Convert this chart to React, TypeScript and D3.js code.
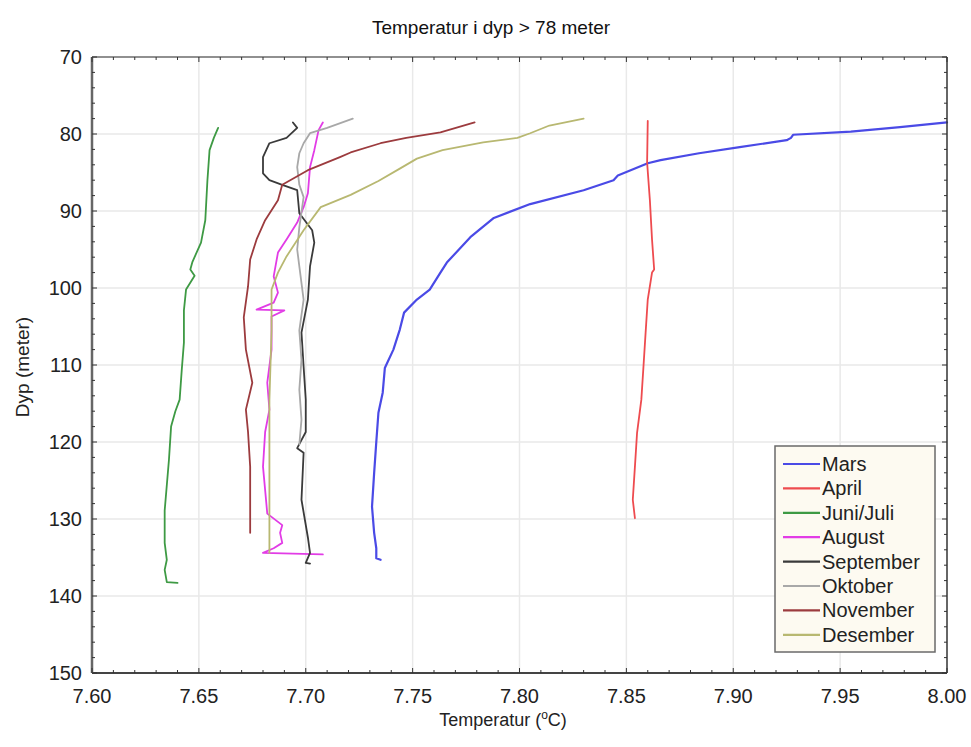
import React from "react";
import * as d3 from "d3";

type P = [number, number];

const seriesNames = ["Mars", "April", "Juni/Juli", "August", "September", "Oktober", "November", "Desember"];
const seriesColors = ["#4a4ae6", "#ee4b4f", "#3e9a44", "#e23ce6", "#3a3a3a", "#a8a8a8", "#9c3b3e", "#b8b871"];

// [temperature °C, depth m]
const mars: P[] = [
  [8.0, 78.5], [7.978, 79.1], [7.955, 79.7], [7.928, 80.1], [7.927, 80.5], [7.925, 80.8],
  [7.903, 81.7], [7.884, 82.5], [7.866, 83.4], [7.86, 83.8], [7.846, 85.4], [7.844, 86.0],
  [7.83, 87.3], [7.805, 89.1], [7.788, 90.9], [7.777, 93.4], [7.766, 96.7], [7.763, 98.0],
  [7.758, 100.2], [7.752, 101.5], [7.746, 103.2], [7.744, 105.4], [7.741, 108.0], [7.737, 110.4],
  [7.736, 113.6], [7.734, 116.2], [7.733, 120.0], [7.732, 124.0], [7.731, 128.4], [7.732, 131.8],
  [7.733, 133.8], [7.733, 135.1], [7.735, 135.3],
];
const april: P[] = [
  [7.86, 78.3], [7.8597, 83.7], [7.861, 88.6], [7.862, 93.7], [7.863, 97.6], [7.862, 98.0],
  [7.86, 101.5], [7.859, 105.8], [7.858, 110.2], [7.857, 114.5], [7.855, 118.8], [7.854, 123.2],
  [7.853, 127.5], [7.854, 129.9],
];
const juniJuli: P[] = [
  [7.659, 79.2], [7.657, 80.5], [7.655, 82.1], [7.654, 86.0], [7.653, 91.2], [7.651, 94.1],
  [7.647, 96.6], [7.646, 97.6], [7.648, 98.4], [7.644, 100.2], [7.643, 102.9], [7.643, 107.1],
  [7.642, 110.6], [7.641, 114.5], [7.639, 116.0], [7.637, 118.0], [7.636, 122.3], [7.634, 128.9],
  [7.634, 133.1], [7.635, 135.3], [7.634, 136.6], [7.635, 138.2], [7.64, 138.3],
];
const august: P[] = [
  [7.708, 78.5], [7.706, 79.5], [7.704, 82.1], [7.702, 84.3], [7.701, 87.7], [7.699, 89.5],
  [7.696, 91.5], [7.691, 93.7], [7.687, 95.4], [7.685, 98.5], [7.687, 100.6], [7.685, 101.9],
  [7.677, 102.8], [7.69, 102.9], [7.684, 103.7], [7.684, 108.0], [7.682, 112.3], [7.683, 115.8],
  [7.681, 118.7], [7.68, 123.2], [7.682, 129.3], [7.689, 130.8], [7.688, 131.8], [7.689, 133.1],
  [7.685, 133.8], [7.68, 134.4], [7.708, 134.6],
];
const september: P[] = [
  [7.694, 78.5], [7.696, 79.2], [7.691, 80.5], [7.683, 81.2], [7.68, 83.0], [7.68, 85.1],
  [7.683, 86.0], [7.689, 86.6], [7.696, 87.3], [7.697, 90.3], [7.703, 92.5], [7.704, 94.1],
  [7.702, 97.2], [7.701, 101.5], [7.698, 105.8], [7.699, 110.2], [7.7, 114.5], [7.7, 118.7],
  [7.696, 120.8], [7.699, 121.4], [7.698, 127.5], [7.701, 132.4], [7.702, 134.4], [7.7, 135.7],
  [7.702, 135.8],
];
const oktober: P[] = [
  [7.722, 78.0], [7.71, 79.2], [7.702, 79.9], [7.699, 81.2], [7.697, 82.5], [7.696, 84.3],
  [7.697, 86.6], [7.699, 88.2], [7.697, 92.1], [7.696, 95.0], [7.697, 97.2], [7.699, 101.5],
  [7.697, 105.5], [7.698, 109.3], [7.697, 113.2], [7.698, 117.1], [7.697, 120.3],
];
const november: P[] = [
  [7.779, 78.5], [7.763, 79.8], [7.747, 80.5], [7.735, 81.2], [7.721, 82.4], [7.716, 83.0],
  [7.701, 84.7], [7.689, 86.6], [7.687, 88.6], [7.681, 91.2], [7.677, 93.7], [7.674, 96.3],
  [7.673, 99.8], [7.671, 103.8], [7.672, 108.0], [7.675, 112.3], [7.672, 115.8], [7.673, 118.7],
  [7.674, 123.2], [7.674, 131.8],
];
const desember: P[] = [
  [7.83, 78.0], [7.814, 78.9], [7.805, 79.9], [7.799, 80.5], [7.783, 81.1], [7.764, 82.1],
  [7.752, 83.2], [7.744, 84.5], [7.734, 86.1], [7.721, 87.9], [7.707, 89.5], [7.699, 92.5],
  [7.691, 95.9], [7.687, 98.0], [7.684, 100.2], [7.684, 105.5], [7.683, 114.5], [7.683, 124.9],
  [7.683, 134.4],
];

const allSeries = [mars, april, juniJuli, august, september, oktober, november, desember];
const xTicks = [7.6, 7.65, 7.7, 7.75, 7.8, 7.85, 7.9, 7.95, 8.0];
const yTicks = [70, 80, 90, 100, 110, 120, 130, 140, 150];

const W = 971;
const H = 747;
const left = 92, right = 947, top = 57, bottom = 673;

export default function App() {
  const x = d3.scaleLinear().domain([7.6, 8.0]).range([left, right]);
  const y = d3.scaleLinear().domain([70, 150]).range([top, bottom]);
  const line = d3.line<P>().x((d) => x(d[0])).y((d) => y(d[1]));
  const xMinor = d3.range(0, 41).map((i) => 7.6 + i * 0.01);
  const yMinor = d3.range(0, 41).map((i) => 70 + i * 2);
  const font = "Liberation Sans, Arial, sans-serif";
  const legX = 775, legY = 446, legRow = 24.4;

  return (
    <svg width={W} height={H} style={{ position: "absolute", left: 0, top: 0, background: "#fff" }} fontFamily={font}>
      <rect x={0} y={0} width={W} height={H} fill="#fff" />
      {/* grid */}
      {xTicks.slice(1, -1).map((t) => (
        <line key={"gx" + t} x1={x(t)} x2={x(t)} y1={top} y2={bottom} stroke="#e9e9e9" strokeWidth={1.5} />
      ))}
      {yTicks.slice(1, -1).map((t) => (
        <line key={"gy" + t} x1={left} x2={right} y1={y(t)} y2={y(t)} stroke="#e9e9e9" strokeWidth={1.5} />
      ))}
      {/* series */}
      {allSeries.map((s, i) => (
        <path key={seriesNames[i]} d={line(s) || ""} fill="none" stroke={seriesColors[i]}
          strokeWidth={i === 0 ? 2.2 : 1.8} strokeLinejoin="round" strokeLinecap="round" />
      ))}
      {/* frame */}
      <line x1={left} x2={right} y1={top} y2={top} stroke="#222" strokeWidth={1.2} />
      <line x1={right} x2={right} y1={top} y2={bottom} stroke="#333" strokeWidth={1.5} />
      <line x1={left} x2={right} y1={bottom} y2={bottom} stroke="#444" strokeWidth={2} />
      <line x1={left} x2={left} y1={top} y2={bottom} stroke="#666" strokeWidth={2.5} />
      {/* minor/major ticks */}
      {xMinor.map((t, i) => {
        const len = i % 5 === 0 ? 5 : 3;
        return (
          <g key={"xt" + i}>
            <line x1={x(t)} x2={x(t)} y1={bottom} y2={bottom - len} stroke="#333" strokeWidth={1} />
            <line x1={x(t)} x2={x(t)} y1={top} y2={top + len} stroke="#333" strokeWidth={1} />
          </g>
        );
      })}
      {yMinor.map((t, i) => {
        const len = i % 5 === 0 ? 5 : 3;
        return (
          <g key={"yt" + i}>
            <line x1={left} x2={left + len} y1={y(t)} y2={y(t)} stroke="#333" strokeWidth={1} />
            <line x1={right} x2={right - len} y1={y(t)} y2={y(t)} stroke="#333" strokeWidth={1} />
          </g>
        );
      })}
      {/* tick labels */}
      {xTicks.map((t) => (
        <text key={"xl" + t} x={x(t)} y={703} textAnchor="middle" fontSize={20} fill="#222">
          {t.toFixed(2)}
        </text>
      ))}
      {yTicks.map((t) => (
        <text key={"yl" + t} x={82} y={y(t) + 7} textAnchor="end" fontSize={20} fill="#222">
          {t}
        </text>
      ))}
      {/* titles */}
      <text x={491} y={34} textAnchor="middle" fontSize={19} fill="#111">Temperatur i dyp &gt; 78 meter</text>
      <text x={503} y={726} textAnchor="middle" fontSize={18} fill="#222">
        Temperatur (<tspan fontSize={12} dy={-7}>o</tspan><tspan dy={7}>C)</tspan>
      </text>
      <text transform="translate(29,367) rotate(-90)" textAnchor="middle" fontSize={19} fill="#222">Dyp (meter)</text>
      {/* legend */}
      <rect x={legX} y={legY} width={160} height={206} fill="#fdfaf1" stroke="#6a6a6a" strokeWidth={1.5} />
      {seriesNames.map((n, i) => (
        <g key={"lg" + n}>
          <line x1={783} x2={820} y1={legY + 18 + i * legRow} y2={legY + 18 + i * legRow}
            stroke={seriesColors[i]} strokeWidth={2.2} />
          <text x={822} y={legY + 18 + i * legRow + 7} fontSize={20} fill="#222">{n}</text>
        </g>
      ))}
    </svg>
  );
}
